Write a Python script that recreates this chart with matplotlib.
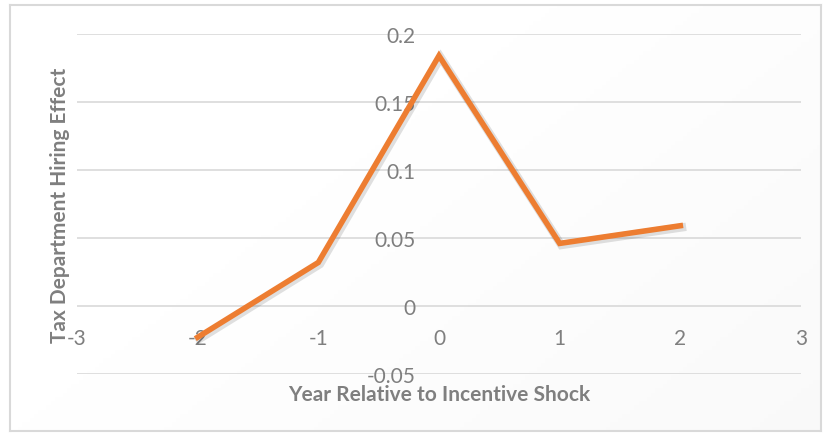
import matplotlib.pyplot as plt
import matplotlib.patheffects as pe
import numpy as np

# event-study estimates
years = [-2, -1, 0, 1, 2]
effect = [-0.023, 0.032, 0.184, 0.046, 0.059]
xticks = [-3, -2, -1, 0, 1, 2, 3]
yticks = [-0.05, 0, 0.05, 0.1, 0.15, 0.2]
ytick_labels = ["-0.05", "0", "0.05", "0.1", "0.15", "0.2"]

plt.rcParams['font.family'] = ['Lato', 'DejaVu Sans']
plt.rcParams['axes.unicode_minus'] = False
grey = "#7f7f7f"

fig = plt.figure(figsize=(8.25, 4.35), dpi=100)

# soft white-to-grey chart area with thin border
bg = fig.add_axes([0.012, 0.007, 0.983, 0.98], zorder=-5)
gx, gy = np.meshgrid(np.linspace(0, 1, 200), np.linspace(0, 1, 100))
grad = np.clip(0.6 * gx + 0.4 * gy - 0.35, 0, 1)
bg.imshow(grad, cmap="Greys", vmin=0, vmax=14, aspect="auto", extent=[0, 1, 0, 1])
bg.set_xticks([])
bg.set_yticks([])
for s in bg.spines.values():
    s.set_color("#d9d9d9")
    s.set_linewidth(1.5)

ax = fig.add_axes([0.0933, 0.138, 0.8776, 0.7816])
ax.patch.set_alpha(0)
ax.plot(years, effect, color="#ed7d31", linewidth=4.0, solid_joinstyle="miter",
        path_effects=[pe.SimpleLineShadow(offset=(1.2, -1.2), alpha=0.12, shadow_color="k",
                                          linewidth=6),
                      pe.Normal()], zorder=3)

ax.set_xlim(-3, 3)
ax.set_ylim(-0.05, 0.2)
ax.set_xticks(xticks)
ax.set_yticks(yticks)
ax.set_yticklabels(ytick_labels)
ax.grid(axis="y", color="#d9d9d9", linewidth=1.2)
ax.set_axisbelow(True)

for s in ["top", "right"]:
    ax.spines[s].set_visible(False)
ax.spines["left"].set_position(("data", 0))
ax.spines["bottom"].set_position(("data", 0))
ax.spines["left"].set_visible(False)
ax.spines["bottom"].set_visible(False)

ax.tick_params(axis="x", length=0, pad=16, labelsize=15, labelcolor=grey)
ax.tick_params(axis="y", length=0, pad=17, labelsize=15, labelcolor=grey)

fig.text(0.532, 0.092, "Year Relative to Incentive Shock", ha="center", va="center",
         fontsize=15, fontweight="bold", color=grey)
fig.text(0.073, 0.529, "Tax Department Hiring Effect", ha="center", va="center",
         rotation=90, fontsize=15, fontweight="bold", color=grey)

fig.savefig("out.png", dpi=100)
